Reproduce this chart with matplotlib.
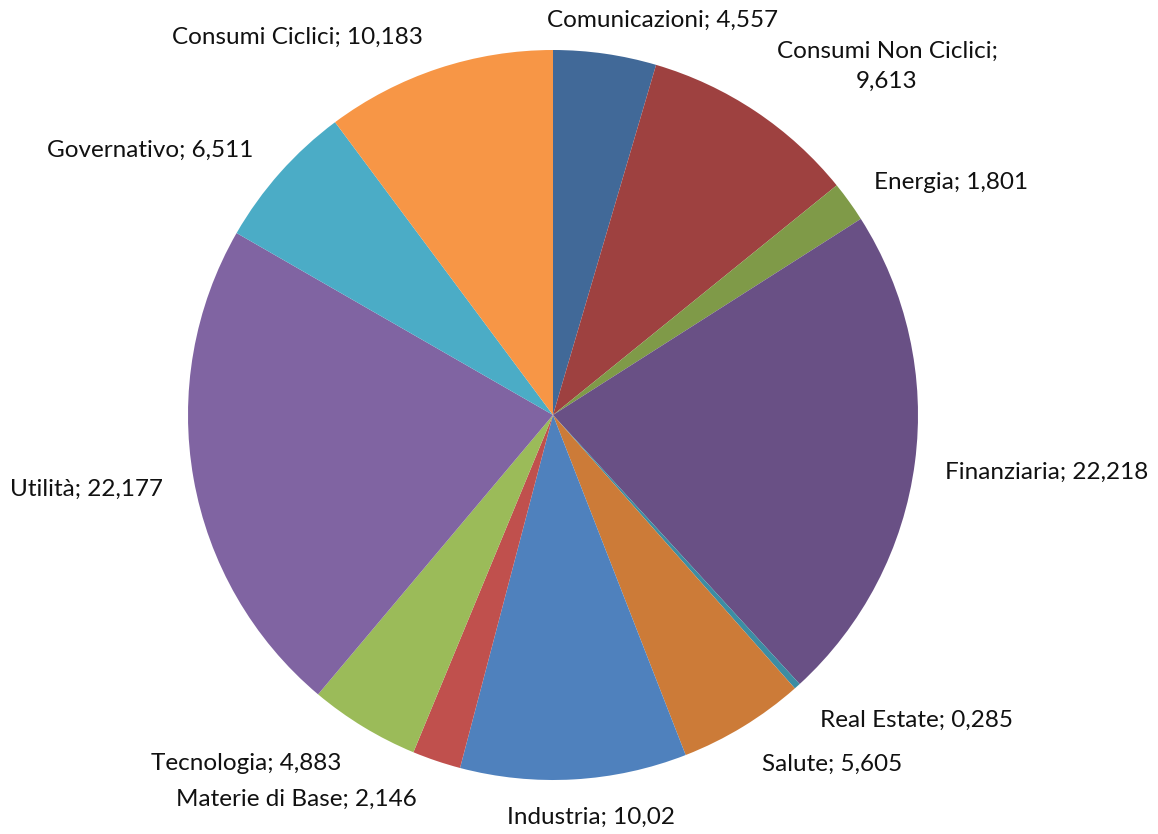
import matplotlib

matplotlib.use("Agg")
import matplotlib.pyplot as plt  # noqa: E402

SECTORS = [
    "Comunicazioni", "Consumi Non Ciclici", "Energia", "Finanziaria",
    "Real Estate", "Salute", "Industria", "Materie di Base",
    "Tecnologia", "Utilità", "Governativo", "Consumi Ciclici",
]
VALUES = [4.557, 9.613, 1.801, 22.218, 0.285, 5.605, 10.02, 2.146,
          4.883, 22.177, 6.511, 10.183]
COLORS = ["#416998", "#9E4140", "#7F9A48", "#695085", "#3C8DA3", "#CC7B38",
          "#4F81BD", "#C0504D", "#9BBB59", "#8064A2", "#4BACC6", "#F79646"]
# label centres in units of the pie radius (Excel "best fit" placement)
LABEL_POS = [(0.299, 1.082), (0.915, 0.956), (1.090, 0.638), (1.353, -0.156),
             (0.995, -0.836), (0.764, -0.956), (0.104, -1.101), (-0.704, -1.052),
             (-0.841, -0.956), (-1.277, -0.203), (-1.104, 0.726), (-0.701, 1.036)]

plt.rcParams["font.family"] = ["Lato", "DejaVu Sans"]

fig = plt.figure(figsize=(11.58, 8.34), dpi=100)
ax = fig.add_axes([0, 0, 1, 1])
ax.pie(VALUES, colors=COLORS, startangle=90, counterclock=False,
       wedgeprops=dict(linewidth=0))

for name, val, (lx, ly) in zip(SECTORS, VALUES, LABEL_POS):
    num = f"{val:g}".replace(".", ",")
    sep = "\n" if name == "Consumi Non Ciclici" else " "
    ax.text(lx, ly, f"{name};{sep}{num}", ha="center", va="center",
            fontsize=17.5, color="#111111", multialignment="center", linespacing=1.55)

# centre at (553, 415) px, radius 365 px
r = 365
ax.set_xlim(-553 / r, (1158 - 553) / r)
ax.set_ylim(-(834 - 415) / r, 415 / r)
ax.set_aspect("auto")
ax.axis("off")
fig.savefig("out.png", dpi=100)
